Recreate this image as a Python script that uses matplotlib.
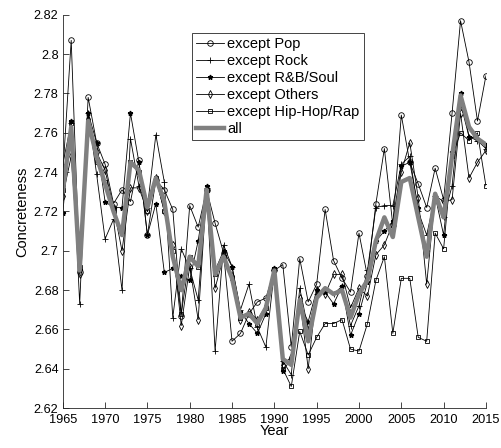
import numpy as np
import matplotlib
matplotlib.use("Agg")
import matplotlib.pyplot as plt
from matplotlib.ticker import FuncFormatter

plt.rcParams['font.family'] = ['Liberation Sans', 'DejaVu Sans']

years = np.arange(1965, 2016)

pop = [2.739, 2.807, 2.689, 2.778, 2.755, 2.744, 2.724, 2.731, 2.725, 2.746,
       2.708, 2.736, 2.731, 2.721, 2.667, 2.723, 2.712, 2.731, 2.714, 2.699,
       2.654, 2.658, 2.668, 2.674, 2.676, 2.690, 2.693, 2.651, 2.696, 2.674,
       2.683, 2.721, 2.695, 2.686, 2.679, 2.709, 2.687, 2.724, 2.752, 2.713,
       2.769, 2.745, 2.734, 2.722, 2.742, 2.726, 2.770, 2.817, 2.796, 2.766,
       2.789]
rock = [2.744, 2.765, 2.673, 2.770, 2.739, 2.706, 2.716, 2.680, 2.757, 2.733,
        2.722, 2.759, 2.735, 2.666, 2.701, 2.691, 2.675, 2.732, 2.649, 2.703,
        2.692, 2.670, 2.683, 2.661, 2.651, 2.690, 2.644, 2.637, 2.681, 2.660,
        2.678, 2.680, 2.678, 2.682, 2.662, 2.672, 2.690, 2.722, 2.723, 2.723,
        2.744, 2.748, 2.720, 2.708, 2.728, 2.717, 2.733, 2.775, 2.758, 2.756,
        2.752]
rnb = [2.719, 2.766, 2.690, 2.770, 2.755, 2.725, 2.722, 2.722, 2.770, 2.745,
       2.708, 2.724, 2.689, 2.691, 2.687, 2.685, 2.705, 2.733, 2.690, 2.700,
       2.692, 2.669, 2.663, 2.658, 2.668, 2.691, 2.639, 2.645, 2.673, 2.664,
       2.680, 2.679, 2.673, 2.682, 2.657, 2.668, 2.684, 2.705, 2.710, 2.715,
       2.743, 2.745, 2.722, 2.700, 2.728, 2.708, 2.750, 2.780, 2.758, 2.757,
       2.754]
others = [2.728, 2.748, 2.688, 2.767, 2.750, 2.741, 2.722, 2.700, 2.732, 2.732,
          2.720, 2.737, 2.720, 2.703, 2.662, 2.692, 2.665, 2.731, 2.681, 2.697,
          2.687, 2.665, 2.669, 2.665, 2.672, 2.690, 2.642, 2.646, 2.676, 2.640,
          2.680, 2.678, 2.688, 2.688, 2.671, 2.681, 2.677, 2.698, 2.703, 2.714,
          2.740, 2.755, 2.727, 2.683, 2.728, 2.725, 2.726, 2.770, 2.737, 2.745,
          2.751]
hiphop = [2.731, 2.765, 2.692, 2.765, 2.745, 2.735, 2.720, 2.710, 2.745, 2.740,
          2.720, 2.737, 2.720, 2.700, 2.668, 2.697, 2.692, 2.731, 2.688, 2.697,
          2.686, 2.666, 2.668, 2.663, 2.671, 2.690, 2.640, 2.631, 2.659, 2.647,
          2.656, 2.663, 2.663, 2.665, 2.650, 2.649, 2.663, 2.685, 2.697, 2.658,
          2.686, 2.686, 2.656, 2.654, 2.709, 2.701, 2.748, 2.760, 2.756, 2.760,
          2.733]
all_genres = [2.730, 2.763, 2.690, 2.766, 2.748, 2.734, 2.720, 2.708, 2.745, 2.741,
              2.722, 2.737, 2.725, 2.697, 2.680, 2.697, 2.692, 2.731, 2.688, 2.697,
              2.686, 2.666, 2.668, 2.663, 2.671, 2.690, 2.645, 2.642, 2.675, 2.654,
              2.676, 2.681, 2.678, 2.680, 2.666, 2.678, 2.685, 2.705, 2.717, 2.707,
              2.735, 2.737, 2.717, 2.697, 2.729, 2.717, 2.748, 2.779, 2.763, 2.757,
              2.754]

fig = plt.figure(figsize=(5.02, 4.48), dpi=100)
ax = fig.add_axes([0.125, 0.089, 0.843, 0.878])

lw = 0.6
ax.plot(years, pop, 'k-', marker='o', ms=4, mfc='none', mew=0.6, lw=lw, label='except Pop')
ax.plot(years, rock, 'k-', marker='+', ms=5, mew=0.6, lw=lw, label='except Rock')
ax.plot(years, rnb, 'k-', marker='*', ms=3.5, lw=lw, label='except R&B/Soul')
ax.plot(years, others, 'k-', marker='d', ms=4, mfc='none', mew=0.6, lw=lw, label='except Others')
ax.plot(years, hiphop, 'k-', marker='s', ms=2.8, mfc='none', mew=0.6, lw=lw, label='except Hip-Hop/Rap')
ax.plot(years, all_genres, '-', color='#808080', lw=3.2, label='all')

ax.set_xlim(1965, 2015)
ax.set_ylim(2.62, 2.82)
ax.set_xticks(np.arange(1965, 2016, 5))
ax.set_yticks(np.arange(2.62, 2.8201, 0.02))
ax.yaxis.set_major_formatter(FuncFormatter(lambda v, p: '%g' % round(v, 2)))

for s in ['top', 'right']:
    ax.spines[s].set_visible(False)
for s in ['left', 'bottom']:
    ax.spines[s].set_color('#262626')
    ax.spines[s].set_linewidth(0.6)
ax.tick_params(direction='in', length=4, width=0.6, color='#262626', labelsize=9.2)
ax.tick_params(axis='x', pad=4)
ax.tick_params(axis='y', pad=3)

ax.set_xlabel('Year', fontsize=10.5, labelpad=-1)
ax.set_ylabel('Concreteness', fontsize=10.5, labelpad=3)

leg = ax.legend(loc='upper left', bbox_to_anchor=(0.3056, 0.954), fontsize=10.5,
                fancybox=False, edgecolor='#262626', framealpha=1,
                handlelength=1.9, handletextpad=0.2, labelspacing=0.2,
                borderpad=0.3, borderaxespad=0)
leg.get_frame().set_linewidth(0.6)

fig.savefig('out.png', dpi=100)
